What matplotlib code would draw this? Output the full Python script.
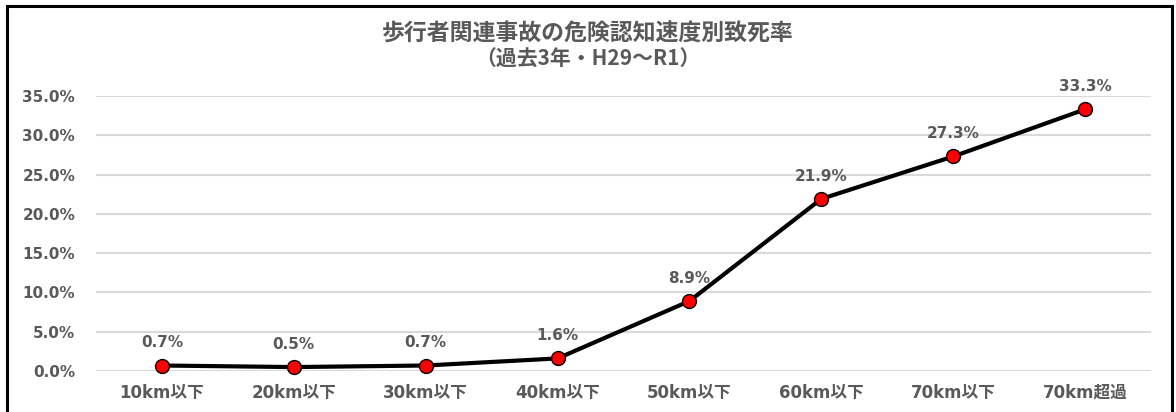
import matplotlib
matplotlib.use("Agg")
import matplotlib.pyplot as plt
from matplotlib.patches import Rectangle

# Latin glyphs in DejaVu (Verdana-like), Japanese falls through to Noto CJK
plt.rcParams['font.family'] = ['DejaVu Sans', 'Noto Sans CJK JP']

categories = ["10km以下", "20km以下", "30km以下", "40km以下",
              "50km以下", "60km以下", "70km以下", "70km超過"]
rates = [0.7, 0.5, 0.7, 1.6, 8.9, 21.9, 27.3, 33.3]
yticks = [0, 5, 10, 15, 20, 25, 30, 35]

GRAY = "#595959"

fig = plt.figure(figsize=(11.76, 4.12), dpi=100)
ax = fig.add_axes([0.0816, 0.0995, 0.8971, 0.6675])

x = list(range(len(categories)))
ax.plot(x, rates, color="black", linewidth=3.0, marker="o", markersize=10,
        markerfacecolor="#ff0000", markeredgecolor="black", markeredgewidth=1.0,
        zorder=3, clip_on=False)

for xi, v in zip(x, rates):
    ax.annotate(f"{v:.1f}%", xy=(xi, v), xytext=(0, 11), textcoords="offset points",
                ha="center", va="bottom", fontsize=11, fontweight="bold", color=GRAY)

ax.set_xlim(-0.5, len(categories) - 0.5)
ax.set_ylim(0, 35)
ax.set_yticks(yticks)
ax.set_yticklabels([f"{t:.1f}%" for t in yticks])
ax.set_xticks(x)
ax.set_xticklabels(categories)
ax.tick_params(axis="both", length=0, labelcolor=GRAY)
ax.tick_params(axis="y", pad=15, labelsize=11)
ax.tick_params(axis="x", pad=9, labelsize=12)
for lab in ax.get_xticklabels() + ax.get_yticklabels():
    lab.set_fontweight("bold")
ax.grid(axis="y", color="#d9d9d9", linewidth=1.5)
ax.set_axisbelow(True)
for s in ax.spines.values():
    s.set_visible(False)

title_fam = ['Noto Sans CJK JP', 'DejaVu Sans']
fig.text(0.5, 0.917, "歩行者関連事故の危険認知速度別致死率", ha="center", va="center",
         fontsize=16.5, fontweight="bold", color=GRAY, family=title_fam)
fig.text(0.5, 0.857, "（過去3年・H29～R1）", ha="center", va="center",
         fontsize=15, fontweight="bold", color=GRAY, family=title_fam)

fig.patches.append(Rectangle((0.006, -0.1), 0.991, 1.085, transform=fig.transFigure,
                             fill=False, edgecolor="black", linewidth=2.2, clip_on=False))

fig.savefig("out.png", dpi=100)
